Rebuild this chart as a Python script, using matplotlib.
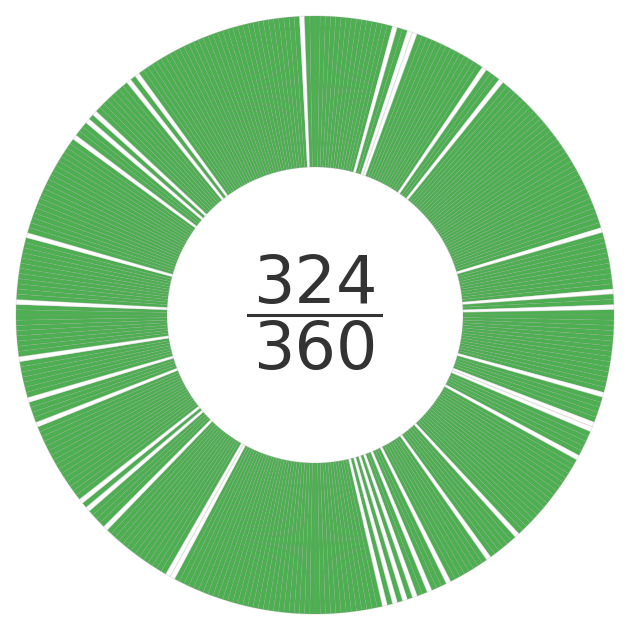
import matplotlib
matplotlib.use("Agg")
import matplotlib.pyplot as plt

# 360 one-degree slots, counted clockwise from the top
total = 360
done = 324
# slots that are not done (white wedges)
missing = [15, 18, 19, 34, 38, 73, 85, 88, 105, 111, 112, 118, 137, 144,
           153, 157, 160, 162, 164, 166, 208, 209, 224, 229, 231, 248, 253,
           261, 272, 285, 306, 310, 312, 321, 323, 357]

green = "#4caf50"
colors = ["white" if i in missing else green for i in range(total)]

fig = plt.figure(figsize=(6.3, 6.3), dpi=100)
ax = fig.add_axes([0, 0, 1, 1])
ax.pie([1] * total, colors=colors, startangle=90, counterclock=False,
       radius=1.0,
       wedgeprops=dict(width=0.505, edgecolor=(0.6, 0.6, 0.6, 0.22),
                       linewidth=0.8))
lim = 315 / 299
ax.set_xlim(-lim, lim)
ax.set_ylim(-lim, lim)
ax.set_aspect("equal")
ax.axis("off")

ax.text(0, 0.10, str(done), ha="center", va="center", fontsize=47,
        color="#333333")
ax.text(0, -0.12, str(total), ha="center", va="center", fontsize=47,
        color="#333333")
ax.plot([-0.225, 0.22], [0, 0], color="#333333", linewidth=2.2)

fig.savefig("out.png", dpi=100)
